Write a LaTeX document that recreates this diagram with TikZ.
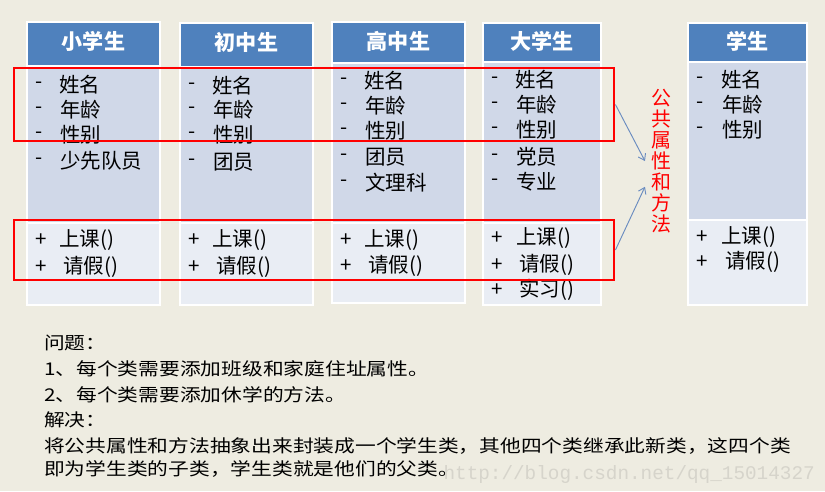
\documentclass[tikz,border=0pt]{standalone}
\usepackage{fontspec}
\setmainfont{Noto Sans CJK SC}
\newfontfamily\widefont[FakeStretch=1.18]{Noto Sans CJK SC}
\newfontfamily\markfont{Liberation Mono}
\usetikzlibrary{arrows.meta}
\definecolor{paper}{HTML}{EEECE1}
\definecolor{headblue}{HTML}{4F81BD}
\definecolor{attrfill}{HTML}{D0D8E8}
\definecolor{methfill}{HTML}{E9EDF4}
\definecolor{arrowblue}{HTML}{6A8CC0}
\definecolor{marktext}{HTML}{D6D4CB}

\begin{document}
\begin{tikzpicture}[x=0.03cm,y=-0.03cm,>={Straight Barb[length=5pt,width=7pt]},
  head/.style={fill=headblue,draw=white,line width=1.2pt},
  attr/.style={fill=attrfill,draw=white,line width=1.2pt},
  meth/.style={fill=methfill,draw=white,line width=1.2pt},
  title/.style={text=white,inner sep=0pt,font=\fontsize{18}{20}\selectfont\bfseries},
  item/.style={anchor=west,inner sep=0pt,font=\fontsize{17.5}{19}\selectfont},
  redbox/.style={draw=red,line width=2.4pt,inner sep=0pt},
  note/.style={anchor=west,inner sep=0pt,font=\widefont\fontsize{15}{17}\selectfont}]
\fill[paper] (0,0) rectangle (825,491);
\useasboundingbox (0,0) rectangle (825,491);
% class boxes
\filldraw[attr] (27,66) rectangle (160,223); \filldraw[meth] (27,223) rectangle (160,305);
\filldraw[head] (27,22) rectangle (160,66);
\filldraw[attr] (180,67) rectangle (313,223); \filldraw[meth] (180,223) rectangle (313,305);
\filldraw[head] (180,23) rectangle (313,67);
\filldraw[attr] (332,63) rectangle (465,223); \filldraw[meth] (332,223) rectangle (465,303);
\filldraw[head] (332,22) rectangle (465,63);
\filldraw[attr] (483,62) rectangle (601,223); \filldraw[meth] (483,223) rectangle (601,305);
\filldraw[head] (483,23) rectangle (601,62);
\filldraw[attr] (688,62) rectangle (807,220); \filldraw[meth] (688,220) rectangle (807,305);
\filldraw[head] (688,23) rectangle (807,62);
\node[title] (t1) at (93.5,41) {小学生};
\node[title] (t2) at (246.5,42) {初中生};
\node[title] (t3) at (398.5,41) {高中生};
\node[title] (t4) at (542,41) {大学生};
\node[title] (t5) at (747.5,41) {学生};
% 小学生
\node[item] (d11) at (35,85) {-};  \node[item] (a11) at (59,85) {姓名};
\node[item] (d12) at (35,110) {-}; \node[item] (a12) at (60,110) {年龄};
\node[item] (d13) at (35,135) {-}; \node[item] (a13) at (60,135) {性别};
\node[item] (d14) at (35,161) {-}; \node[item] (a14) at (60,161) {少先队员};
\node[item] (p11) at (35,240) {+}; \node[item] (m11) at (59,240) {上课()};
\node[item] (p12) at (35,267) {+}; \node[item] (m12) at (63,267) {请假()};
% 初中生
\node[item] (d21) at (188,86) {-};  \node[item] (a21) at (212,86) {姓名};
\node[item] (d22) at (188,110) {-}; \node[item] (a22) at (213,110) {年龄};
\node[item] (d23) at (188,135) {-}; \node[item] (a23) at (213,135) {性别};
\node[item] (d24) at (188,162) {-}; \node[item] (a24) at (213,162) {团员};
\node[item] (p21) at (188,240) {+}; \node[item] (m21) at (212,240) {上课()};
\node[item] (p22) at (188,267) {+}; \node[item] (m22) at (216,267) {请假()};
% 高中生
\node[item] (d31) at (340,81) {-};  \node[item] (a31) at (364,81) {姓名};
\node[item] (d32) at (340,106) {-}; \node[item] (a32) at (365,106) {年龄};
\node[item] (d33) at (340,131) {-}; \node[item] (a33) at (365,131) {性别};
\node[item] (d34) at (340,157) {-}; \node[item] (a34) at (365,157) {团员};
\node[item] (d35) at (340,183) {-}; \node[item] (a35) at (365,183) {文理科};
\node[item] (p31) at (340,240) {+}; \node[item] (m31) at (364,240) {上课()};
\node[item] (p32) at (340,266) {+}; \node[item] (m32) at (368,266) {请假()};
% 大学生
\node[item] (d41) at (491,80) {-};  \node[item] (a41) at (515,80) {姓名};
\node[item] (d42) at (491,105) {-}; \node[item] (a42) at (516,105) {年龄};
\node[item] (d43) at (491,130) {-}; \node[item] (a43) at (516,130) {性别};
\node[item] (d44) at (491,157) {-}; \node[item] (a44) at (516,157) {党员};
\node[item] (d45) at (491,182) {-}; \node[item] (a45) at (516,182) {专业};
\node[item] (p41) at (491,238) {+}; \node[item] (m41) at (516,238) {上课()};
\node[item] (p42) at (491,265) {+}; \node[item] (m42) at (519,265) {请假()};
\node[item] (p43) at (491,290) {+}; \node[item] (m43) at (519,290) {实习()};
% 学生
\node[item] (d51) at (696,80) {-};  \node[item] (a51) at (721,80) {姓名};
\node[item] (d52) at (696,105) {-}; \node[item] (a52) at (722,105) {年龄};
\node[item] (d53) at (696,130) {-}; \node[item] (a53) at (722,130) {性别};
\node[item] (p51) at (696,237) {+}; \node[item] (m51) at (721,237) {上课()};
\node[item] (p52) at (696,262) {+}; \node[item] (m52) at (725,262) {请假()};
% common parts
\node[redbox,minimum width=18cm,minimum height=2.19cm] (top) at (314,104.5) {};
\node[redbox,minimum width=18cm,minimum height=1.8cm] (bot) at (314,250) {};
\node[text=red,align=center,inner sep=5pt,font=\fontsize{17}{17.85}\selectfont] (gong) at (661,161)
  {公\\共\\属\\性\\和\\方\\法};
\draw[->,arrowblue,line width=0.8pt] (top.east) -- (gong.west);
\draw[->,arrowblue,line width=0.8pt] (bot.east) -- ([yshift=-22pt]gong.west);
% notes
\node[note] (q0) at (44,343) {问题：};
\node[note] (q1) at (44,369) {1、每个类需要添加班级和家庭住址属性。};
\node[note] (q2) at (44,395) {2、每个类需要添加休学的方法。};
\node[note] (q3) at (44,420) {解决：};
\node[note] (q4) at (44,446) {将公共属性和方法抽象出来封装成一个学生类，其他四个类继承此新类，这四个类};
\node[note] (q5) at (44,469) {即为学生类的子类，学生类就是他们的父类。};
\node[anchor=east,inner sep=0pt,text=marktext,font=\markfont\fontsize{16.5}{18}\selectfont] (wm) at (815,474)
  {http://blog.csdn.net/qq\_15014327};
\end{tikzpicture}
\end{document}
